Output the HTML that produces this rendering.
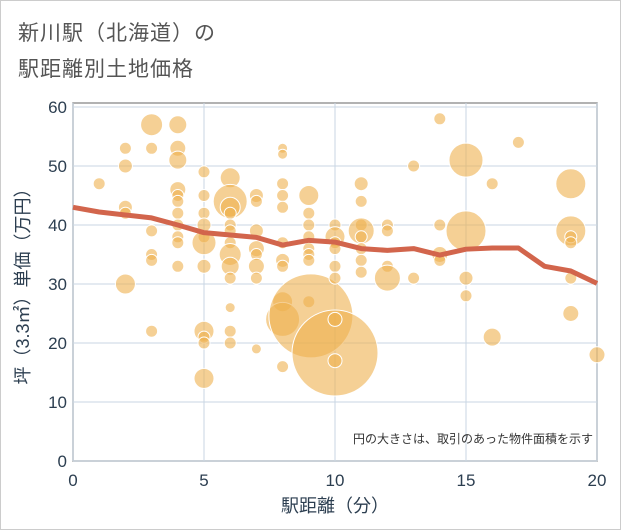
<!DOCTYPE html>
<html><head><meta charset="utf-8"><style>
body{margin:0;background:#fff;font-family:"Liberation Sans","Noto Sans CJK JP",sans-serif}
#wrap{position:relative;width:619px;height:528px;border:1px solid #ccc;background:#fff}
.t{position:absolute;left:17px;color:#555;font-size:21px;letter-spacing:1px}
</style></head><body>
<div id="wrap">
<div class="t" style="top:16px">新川駅（北海道）の</div>
<div class="t" style="top:52px">駅距離別土地価格</div>
<svg id="svg" width="621" height="530" style="position:absolute;left:-1px;top:-1px"></svg>
</div>
<script>
const bubbleX=[
1,
2,2,2,2,2,
3,3,3,3,3,3,
4,4,4,4,4,4,4,4,4,4,4,
5,5,5,5,5,5,5,5,5,5,5,
6,6,6,6,6,6,6,6,6,6,6,6,6,
7,7,7,7,7,7,7,7,
8,8,8,8,8,8,8,8,8,8,8,
9,9,9,9,9,9,9,9,9.08,
10,10,10,10,10,10,10,10,10,
11,11,11,11,11,11,11,11,
12,12,12,12,
13,13,
14,14,14,14,
15,15,15,15,
16,16,
17,
19,19,19,19,19,19,
20];
const bubbleY=[
47,
53,50,43,42,30,
57,53,39,35,34,22,
57,53,51,46,45,44,42,40,38,37,33,
49,45,42,40,38,37,33,22,21,20,14,
48,44,43,42,40,39,37,35,33,31,26,22,20,
45,44,39,36,35,33,31,19,
53,52,47,45,43,37,34,33,27,24,16,
45,42,40,38,36,35,34,27,24.6,
40,38,37,36,33,31,18.3,24,17,
47,44,40,39,38,36,34,32,
40,39,33,31,
50,31,
58,40,35,34,
51,39,31,28,
47,21,
54,
47,39,38,37,31,25,
18];
const bubbleR=[
6,
6,7,7,6,10,
11,6,6,6,6,6,
9,8,9,8,6,6,6,6,6,6,6,
6,6,6,7,6,12,7,10,6,6,10,
10,17,10,6,6,6,6,11,9,6,5,6,6,
7,6,7,8,6,8,6,5,
5,5,6,6,6,6,7,6,10,17,6,
10,6,6,6,6,6,6,6,42,
6,10,6,6,6,6,43,7,7,
7,6,6,13,6,6,6,6,
6,6,6,13,
6,6,
6,6,8,6,
17,20,7,6,
6,9,
6,
15,15,6,6,6,8,
8];
const lineX=[0,1,2,3,4,5,6,7,8,9,10,11,12,13,14,15,16,17,18,19,20];
const lineY=[43,42.2,41.7,41.2,40,38.7,38.3,37.9,36.6,37.4,37.1,36,35.7,36,34.9,35.9,36.1,36.1,33,32.2,30.1];
const xTicks=[0,5,10,15,20];
const yTicks=[0,10,20,30,40,50,60];
const L=73,R=597,T=103,B=461;
const sx=v=>L+(v/20)*(R-L);
const sy=v=>B-(v/60)*(B-107);
const svg=document.getElementById('svg');const NS='http://www.w3.org/2000/svg';
function mk(tag,a,parent){const e=document.createElementNS(NS,tag);for(const k in a)e.setAttribute(k,a[k]);(parent||svg).appendChild(e);return e;}
const frame=mk('rect',{x:L,y:T,width:R-L,height:B-T,fill:'#fff',stroke:'#999','stroke-width':1.5});


yTicks.forEach(v=>{const g=mk('line',{x1:L,x2:R,y1:sy(v),y2:sy(v),stroke:'#c9d6e3','stroke-width':1});


const t=mk('text',{x:L-6,y:sy(v)+6,'text-anchor':'end','font-size':17,fill:'#2c3e50'});t.textContent=v;

});
xTicks.forEach(v=>{const g=mk('line',{x1:sx(v),x2:sx(v),y1:T,y2:B,stroke:'#c9d6e3','stroke-width':1});


const t=mk('text',{x:sx(v),y:B+25,'text-anchor':'middle','font-size':17,fill:'#2c3e50'});t.textContent=v;

});
const bg=mk('g',{});


bubbleX.forEach((x,i)=>{const c=mk('circle',{cx:sx(x),cy:sy(bubbleY[i]),r:bubbleR[i],fill:'#eeb04e','fill-opacity':0.6,stroke:'#fff','stroke-width':1},bg);

});
const p=mk('polyline',{points:lineX.map((x,i)=>sx(x)+','+sy(lineY[i])).join(' '),fill:'none',stroke:'#d2654c','stroke-width':5,'stroke-linejoin':'round'});


const n=mk('text',{x:R-4,y:443,'text-anchor':'end','font-size':12,fill:'#333'});n.textContent='円の大きさは、取引のあった物件面積を示す';


const xt=mk('text',{x:sx(10),y:512,'text-anchor':'middle','font-size':18,fill:'#2c3e50'});xt.textContent='駅距離（分）';


const yt=mk('text',{x:0,y:0,'text-anchor':'middle','font-size':18,fill:'#2c3e50',transform:'translate(29,'+((T+B)/2)+') rotate(-90)'});yt.textContent='坪（3.3㎡）単価（万円）';


</script>
</body></html>
